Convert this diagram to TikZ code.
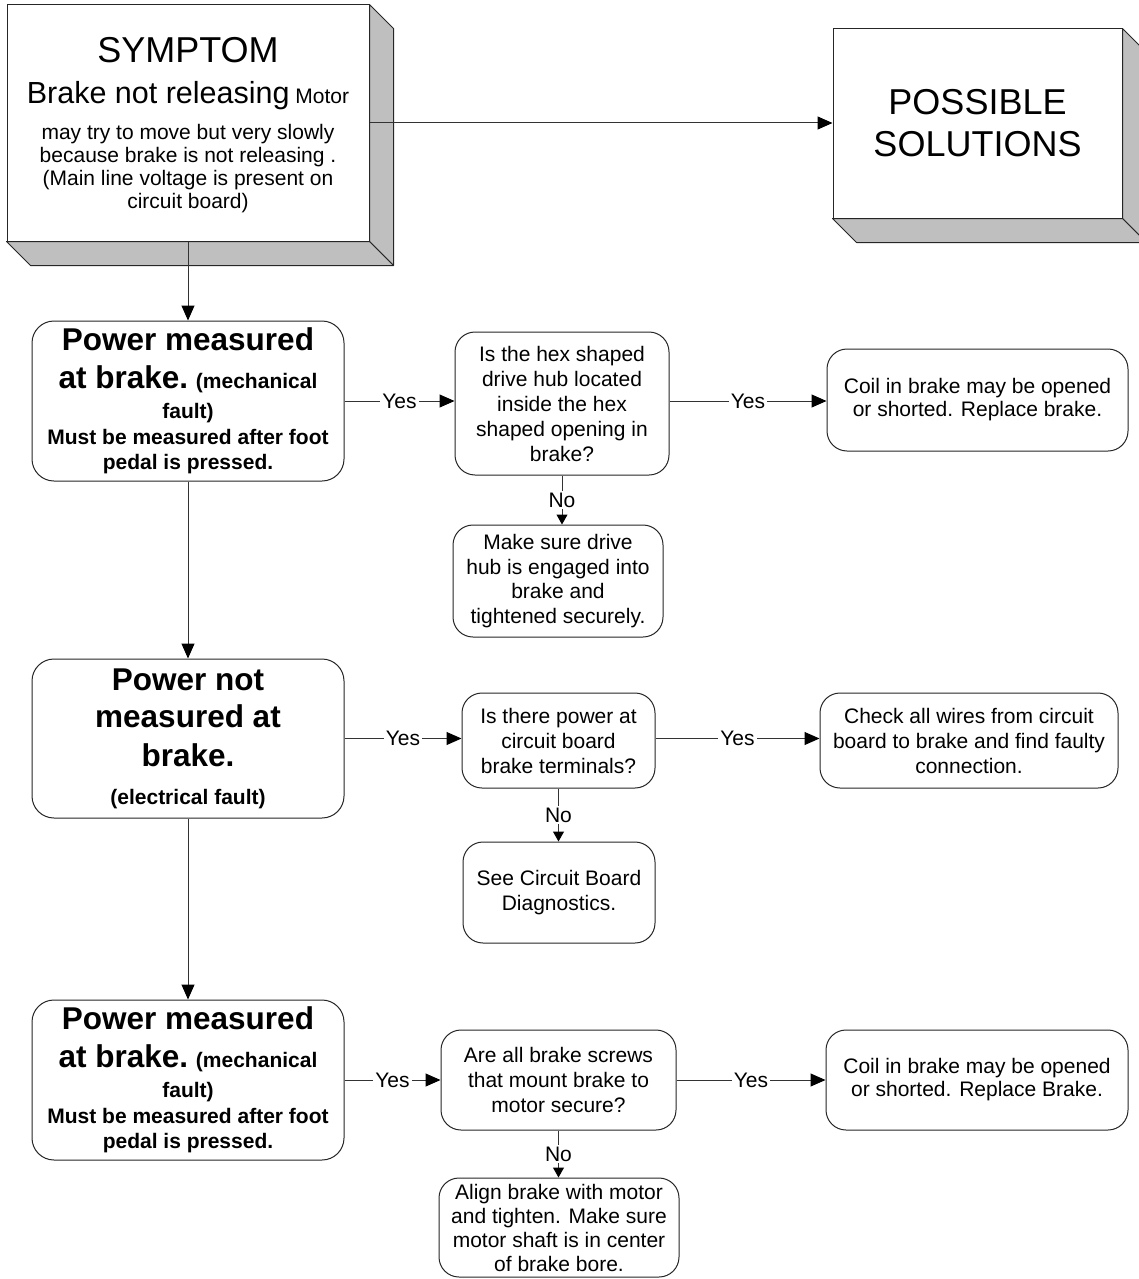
\documentclass[tikz,border=0pt]{standalone}
\usepackage{fontspec}
\setmainfont{Liberation Sans}
\usetikzlibrary{arrows.meta,calc}

\newcommand{\bodyfont}{\fontsize{21}{25}\selectfont}
\newcommand{\bigbold}{\fontsize{31.5}{35}\selectfont\bfseries}

\begin{document}
\begin{tikzpicture}[x=1pt,y=-1pt,
  frontface/.style={draw=black!85, line width=1pt, fill=white, inner sep=0pt, align=center},
  sideface/.style={draw=black!85, line width=1pt, fill=black!25, line join=round},
  stepbox/.style={draw=black!85, line width=1pt, rounded corners=20pt, fill=white,
                  inner sep=0pt, align=center, font=\bodyfont},
  faultbox/.style={stepbox, rounded corners=22pt, font=\bodyfont\bfseries},
  conn/.style={draw=black!80, line width=1pt, -{Triangle[length=15pt,width=13pt,color=black]}},
  noconn/.style={draw=black!80, line width=1pt, -{Triangle[length=10pt,width=11pt,color=black]}},
  lbl/.style={fill=white, inner sep=2pt, font=\bodyfont},
]
\useasboundingbox (0,0) rectangle (1139,1279);

% ---- 3-D header blocks ----
\node[frontface, minimum width=362pt, minimum height=236pt,
      font=\fontsize{21}{23.3}\selectfont] (sym) at (188,123) {%
  \rule{0pt}{30pt}{\fontsize{36}{42}\selectfont SYMPTOM}\\[17.7pt]
  {\fontsize{30.5}{35}\selectfont Brake not releasing} Motor\\[12pt]
  may try to move but very slowly\\
  because brake is not releasing .\\
  (Main line voltage is present on\\
  circuit board)};
\draw[sideface] (sym.north east) -- ++(24,24) -- ($(sym.south east)+(24,24)$) -- (sym.south east) -- cycle;
\draw[sideface] (sym.south west) -- ++(24,24) -- ($(sym.south east)+(24,24)$) -- (sym.south east) -- cycle;

\node[frontface, minimum width=289pt, minimum height=189pt,
      font=\fontsize{36}{42}\selectfont] (sol) at (977.5,123.5) {POSSIBLE\\SOLUTIONS};
\draw[sideface] (sol.north east) -- ++(24,24) -- ($(sol.south east)+(24,24)$) -- (sol.south east) -- cycle;
\draw[sideface] (sol.south west) -- ++(24,24) -- ($(sol.south east)+(24,24)$) -- (sol.south east) -- cycle;

% ---- fault branches (left column) ----
\node[faultbox, minimum width=312pt, minimum height=160pt] (b1) at (188,401) {%
  {\bigbold Power measured}\\[13pt]
  {\bigbold at brake.} (mechanical\\[5pt]
  fault)\\[1pt]
  Must be measured after foot\\
  pedal is pressed.};

\node[faultbox, minimum width=312pt, minimum height=159pt] (b2) at (188,738.5) {%
  {\bigbold Power not}\\[12pt]
  {\bigbold measured at}\\[14pt]
  {\bigbold brake.}\\[13pt]
  (electrical fault)};

\node[faultbox, minimum width=312pt, minimum height=160pt] (b3) at (188,1080) {%
  {\bigbold Power measured}\\[13pt]
  {\bigbold at brake.} (mechanical\\[5pt]
  fault)\\[1pt]
  Must be measured after foot\\
  pedal is pressed.};

% ---- questions (middle column) ----
\node[stepbox, minimum width=214pt, minimum height=143pt] (hex) at (562,403.5) {%
  Is the hex shaped\\drive hub located\\inside the hex\\shaped opening in\\brake?};
\node[stepbox, minimum width=210pt, minimum height=112pt,
      font=\fontsize{21}{24.5}\selectfont] (make) at (558,581) {%
  Make sure drive\\hub is engaged into\\brake and\\tightened securely.};

\node[stepbox, minimum width=193pt, minimum height=95pt] (pwr) at (558.5,740.5) {%
  Is there power at\\circuit board\\brake terminals?};
\node[stepbox, minimum width=192pt, minimum height=101pt] (see) at (559,892.5) {%
  See Circuit Board\\Diagnostics.};

\node[stepbox, minimum width=235pt, minimum height=100pt] (are) at (558.5,1080) {%
  Are all brake screws\\that mount brake to\\motor secure?};
\node[stepbox, minimum width=240pt, minimum height=99pt,
      font=\fontsize{21}{24}\selectfont] (align) at (559,1227.5) {%
  Align brake with motor\\and tighten. Make sure\\motor shaft is in center\\of brake bore.};

% ---- remedies (right column) ----
\node[stepbox, minimum width=301pt, minimum height=102pt,
      font=\fontsize{21}{23}\selectfont] (coil1) at (977.5,400) {%
  Coil in brake may be opened\\or shorted. Replace brake.};
\node[stepbox, minimum width=298pt, minimum height=95pt] (check) at (969,740.5) {%
  Check all wires from circuit\\board to brake and find faulty\\connection.};
\node[stepbox, minimum width=302pt, minimum height=100pt,
      font=\fontsize{21}{23}\selectfont] (coil3) at (977,1080) {%
  Coil in brake may be opened\\or shorted. Replace Brake.};

% ---- connectors ----
\draw[conn] (sym.east) -- (sym.east -| sol.west);
\draw[conn] (sym.south) -- (b1.north);
\draw[conn] (b1.south) -- (b2.north);
\draw[conn] (b2.south) -- (b3.north);

\draw[conn] (b1.east) -- node[lbl] (y1) {Yes} (b1.east -| hex.west);
\draw[conn] (b1.east -| hex.east) -- node[lbl] (y2) {Yes} (b1.east -| coil1.west);
\draw[noconn] (hex.south) -- node[lbl] (n1) {No} (hex.south |- make.north);

\draw[conn] (b2.east) -- node[lbl] (y3) {Yes} (b2.east -| pwr.west);
\draw[conn] (b2.east -| pwr.east) -- node[lbl] (y4) {Yes} (b2.east -| check.west);
\draw[noconn] (pwr.south) -- node[lbl] (n2) {No} (pwr.south |- see.north);

\draw[conn] (b3.east) -- node[lbl] (y5) {Yes} (b3.east -| are.west);
\draw[conn] (are.east) -- node[lbl] (y6) {Yes} (are.east -| coil3.west);
\draw[noconn] (are.south) -- node[lbl] (n3) {No} (are.south |- align.north);
\end{tikzpicture}
\end{document}
